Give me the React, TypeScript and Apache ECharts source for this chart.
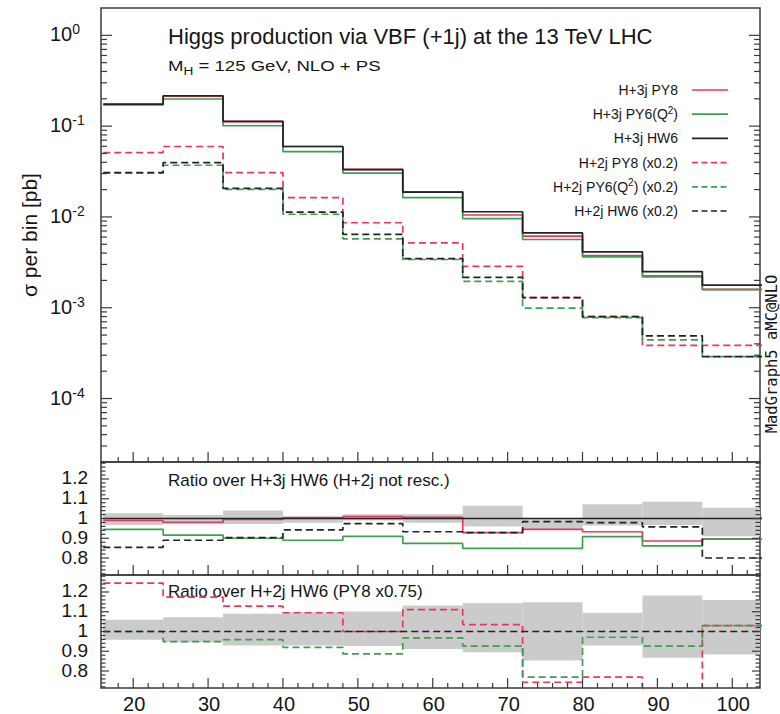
import React, { useEffect, useRef } from 'react';
import * as echarts from 'echarts';

// ---------- data ----------
const binEdges = [16, 24, 32, 40, 48, 56, 64, 72, 80, 88, 96, 104];

// main panel: sigma per bin [pb]
const h3jPY8 = [0.173, 0.214, 0.112, 0.0597, 0.0334, 0.0189, 0.0105, 0.00614, 0.00376, 0.00224, 0.00159];
const h3jPY6 = [0.171, 0.199, 0.101, 0.0525, 0.0304, 0.0163, 0.0096, 0.00564, 0.00363, 0.00218, 0.00158];
const h3jHW6 = [0.175, 0.216, 0.113, 0.0597, 0.0332, 0.0188, 0.0114, 0.00666, 0.00412, 0.0025, 0.00177];
const h2jPY8 = [0.0512, 0.0597, 0.0308, 0.0163, 0.00863, 0.00519, 0.00286, 0.00129, 0.0008, 0.000385, 0.000385];
const h2jPY6 = [0.0305, 0.0371, 0.0201, 0.0107, 0.00574, 0.0034, 0.00195, 0.00099, 0.00078, 0.000443, 0.00029];
const h2jHW6 = [0.0308, 0.0397, 0.0206, 0.0113, 0.00641, 0.00348, 0.00216, 0.00129, 0.0008, 0.00049, 0.00029];

// ratio panel 1: over H+3j HW6 (H+2j not rescaled)
const r1PY8 = [0.99, 0.98, 0.995, 1.005, 1.01, 1.006, 0.928, 0.945, 0.933, 0.886, 0.896];
const r1PY6 = [0.945, 0.916, 0.9, 0.89, 0.91, 0.874, 0.849, 0.849, 0.908, 0.861, 0.896];
const r1HW6 = [1, 1, 1, 1, 1, 1, 1, 1, 1, 1, 1];
const r1H2jHW6 = [0.854, 0.89, 0.903, 0.942, 0.974, 0.933, 0.928, 0.984, 0.979, 0.958, 0.8];
const band1Lo = [0.967, 0.976, 0.972, 0.979, 0.99, 0.979, 0.96, 0.947, 0.965, 0.967, 0.91];
const band1Hi = [1.026, 1.018, 1.04, 1.009, 1.022, 1.021, 1.065, 0.996, 1.072, 1.085, 1.055];

// ratio panel 2: over H+2j HW6 (PY8 x0.75)
const r2PY8 = [1.245, 1.174, 1.128, 1.095, 1.0, 1.111, 1.035, 0.743, 0.769, 0.65, 1.03];
const r2PY6 = [1.0, 0.949, 0.959, 0.92, 0.887, 0.968, 0.926, 0.769, 0.971, 0.926, 1.03];
const r2HW6 = [1, 1, 1, 1, 1, 1, 1, 1, 1, 1, 1];
const band2Lo = [0.958, 0.946, 0.929, 0.929, 0.927, 0.912, 0.895, 0.853, 0.929, 0.867, 0.884];
const band2Hi = [1.059, 1.072, 1.09, 1.098, 1.101, 1.132, 1.143, 1.148, 1.095, 1.182, 1.16];

// tick labels
const xTickLabels = [20, 30, 40, 50, 60, 70, 80, 90, 100];
const mainExponents = [-4, -3, -2, -1, 0];
const ratioTickValues = [0.8, 0.9, 1.0, 1.1, 1.2];
const ratioTickLabels = ['0.8', '0.9', '1', '1.1', '1.2'];

const legendLabels = [
  'H+3j PY8',
  'H+3j PY6(Q{s|2})',
  'H+3j HW6',
  'H+2j PY8 (x0.2)',
  'H+2j PY6(Q{s|2}) (x0.2)',
  'H+2j HW6 (x0.2)',
];

// ---------- styling ----------
const FONT = '"Liberation Sans", Arial, Helvetica, sans-serif';
const MONO = '"DejaVu Sans Mono", "Liberation Mono", monospace';
const RED = '#e8375d';
const GREEN = '#3e9f4e';
const BLACK = '#222222';
const FRAME = '#3a3a3a';
const BAND = '#cbcbcb';
const TEXT = '#151515';
const DASH = [7, 4];

const X_MIN = 15.7;
const X_MAX = 103.7;
const MAIN_MIN = 2e-5;
const MAIN_MAX = 2;
const R_MIN = 0.714;
const R_MAX = 1.286;

const legendColors = [RED, GREEN, BLACK, RED, GREEN, BLACK];
const legendDashed = [false, false, false, true, true, true];

function stepData(vals: number[]) {
  const pts = vals.map((v, i) => [binEdges[i], v]);
  pts.push([binEdges[vals.length], vals[vals.length - 1]]);
  return pts;
}

function bandData(lo: number[], hi: number[]) {
  return lo.map((l, i) => [binEdges[i], l, binEdges[i + 1], hi[i]]);
}

function lineSeries(name: string, vals: number[], color: string, dashed: boolean, g: number, z = 3) {
  return {
    type: 'line',
    name,
    xAxisIndex: g,
    yAxisIndex: g,
    data: stepData(vals),
    step: 'end',
    symbol: 'none',
    showSymbol: false,
    silent: true,
    clip: true,
    z,
    lineStyle: { color, width: 1.7, type: dashed ? DASH : 'solid' },
    itemStyle: { color },
  };
}

function bandSeries(lo: number[], hi: number[], g: number) {
  return {
    type: 'custom',
    xAxisIndex: g,
    yAxisIndex: g,
    clip: true,
    silent: true,
    z: 1,
    data: bandData(lo, hi),
    renderItem: (params: any, api: any) => {
      const p0 = api.coord([api.value(0), api.value(3)]);
      const p1 = api.coord([api.value(2), api.value(1)]);
      return {
        type: 'rect',
        shape: { x: p0[0], y: p0[1], width: p1[0] - p0[0], height: p1[1] - p0[1] },
        style: { fill: BAND },
      };
    },
  };
}

// tick marks: [x, y, kind(0 = x tick, 1 = y tick), length]
function tickItems(g: number) {
  const items: number[][] = [];
  const yRef = g === 0 ? 1e-2 : 1;
  for (let v = 18; v <= 102; v += 2) items.push([v, yRef, 0, v % 10 === 0 ? 10 : 5]);
  if (g === 0) {
    for (let k = -5; k <= 0; k++) {
      for (let m = 1; m <= 9; m++) {
        const v = m * Math.pow(10, k);
        if (v > MAIN_MIN && v < MAIN_MAX) items.push([50, v, 1, m === 1 ? 11 : 6]);
      }
    }
  } else {
    for (let i = 36; i <= 64; i++) {
      items.push([50, i / 50, 1, i % 5 === 0 ? 8 : 4.5]);
    }
  }
  return items;
}

function tickSeries(g: number) {
  return {
    type: 'custom',
    xAxisIndex: g,
    yAxisIndex: g,
    silent: true,
    z: 5,
    data: tickItems(g),
    renderItem: (params: any, api: any) => {
      const cs = params.coordSys;
      const p = api.coord([api.value(0), api.value(1)]);
      const kind = api.value(2);
      const len = api.value(3);
      const style = { stroke: FRAME, lineWidth: 1.2 };
      if (kind === 0) {
        const yb = cs.y + cs.height;
        return { type: 'line', shape: { x1: p[0], y1: yb, x2: p[0], y2: yb - len }, style };
      }
      const xl = cs.x;
      const xr = cs.x + cs.width;
      return {
        type: 'group',
        children: [
          { type: 'line', shape: { x1: xl, y1: p[1], x2: xl + len, y2: p[1] }, style },
          { type: 'line', shape: { x1: xr, y1: p[1], x2: xr - len, y2: p[1] }, style },
        ],
      };
    },
  };
}

function mainLabelSeries() {
  return {
    type: 'custom',
    xAxisIndex: 0,
    yAxisIndex: 0,
    silent: true,
    z: 5,
    data: mainExponents.map((k) => [50, Math.pow(10, k)]),
    renderItem: (params: any, api: any) => {
      const cs = params.coordSys;
      const p = api.coord([api.value(0), api.value(1)]);
      const k = mainExponents[params.dataIndex];
      return {
        type: 'text',
        x: cs.x - 51,
        y: p[1] - 1,
        style: {
          text: '10{s|' + k + '}',
          fontSize: 20,
          fontFamily: FONT,
          fill: TEXT,
          lineHeight: 24,
          align: 'left',
          verticalAlign: 'middle',
          rich: { s: { fontSize: 14, fontFamily: FONT, fill: TEXT, lineHeight: 14, verticalAlign: 'top' } },
        },
      };
    },
  };
}

function ratioLabelSeries(g: number) {
  return {
    type: 'custom',
    xAxisIndex: g,
    yAxisIndex: g,
    silent: true,
    z: 5,
    data: ratioTickValues.map((v) => [50, v]),
    renderItem: (params: any, api: any) => {
      const cs = params.coordSys;
      const p = api.coord([api.value(0), api.value(1)]);
      return {
        type: 'text',
        x: cs.x - 13,
        y: p[1] - 1,
        style: {
          text: ratioTickLabels[params.dataIndex],
          fontSize: 19,
          lineHeight: 16,
          fontFamily: FONT,
          fill: TEXT,
          align: 'right',
          verticalAlign: 'middle',
        },
      };
    },
  };
}

function xLabelSeries() {
  return {
    type: 'custom',
    xAxisIndex: 2,
    yAxisIndex: 2,
    silent: true,
    z: 5,
    data: xTickLabels.map((v) => [v, 1]),
    renderItem: (params: any, api: any) => {
      const cs = params.coordSys;
      const p = api.coord([api.value(0), api.value(1)]);
      return {
        type: 'text',
        x: p[0] + 1,
        y: cs.y + cs.height + 16,
        style: {
          text: String(xTickLabels[params.dataIndex]),
          fontSize: 20,
          lineHeight: 18,
          fontFamily: FONT,
          fill: TEXT,
          align: 'center',
          verticalAlign: 'middle',
        },
      };
    },
  };
}

function buildOption() {
  const gridBase = { left: 101, width: 659, show: true, borderColor: FRAME, borderWidth: 1.5, backgroundColor: 'transparent' };
  const legendGraphics: any[] = [];
  legendLabels.forEach((lab, i) => {
    const y = 90 + i * 24.2;
    legendGraphics.push({
      type: 'text',
      x: 678,
      y,
      style: {
        text: lab,
        fontSize: 14,
        fontFamily: FONT,
        fill: TEXT,
        lineHeight: 18,
        align: 'right',
        verticalAlign: 'middle',
        rich: { s: { fontSize: 10, fontFamily: FONT, fill: TEXT, lineHeight: 10, verticalAlign: 'top' } },
      },
    });
    legendGraphics.push({
      type: 'line',
      shape: { x1: 692, y1: y, x2: 728, y2: y },
      style: { stroke: legendColors[i], lineWidth: 1.7, lineDash: legendDashed[i] ? [6, 3.5] : null },
    });
  });

  return {
    animation: false,
    backgroundColor: '#ffffff',
    grid: [
      { ...gridBase, top: 8, height: 454 },
      { ...gridBase, top: 462, height: 113 },
      { ...gridBase, top: 575, height: 113 },
    ],
    xAxis: [0, 1, 2].map((g) => ({ type: 'value', gridIndex: g, min: X_MIN, max: X_MAX, show: false })),
    yAxis: [
      { type: 'log', logBase: 10, gridIndex: 0, min: MAIN_MIN, max: MAIN_MAX, show: false },
      { type: 'value', gridIndex: 1, min: R_MIN, max: R_MAX, show: false },
      { type: 'value', gridIndex: 2, min: R_MIN, max: R_MAX, show: false },
    ],
    graphic: [
      {
        type: 'text',
        x: 168,
        y: 36,
        style: { text: 'Higgs production via VBF (+1j) at the 13 TeV LHC', fontSize: 22, fontFamily: FONT, fill: TEXT, align: 'left', verticalAlign: 'middle' },
      },
      {
        type: 'text',
        x: 168,
        y: 66,
        scaleX: 1.24,
        style: {
          text: 'M{sub|H} = 125 GeV, NLO + PS',
          fontSize: 15,
          fontFamily: FONT,
          fill: TEXT,
          lineHeight: 22,
          align: 'left',
          verticalAlign: 'middle',
          rich: { sub: { fontSize: 11, fontFamily: FONT, fill: TEXT, lineHeight: 10, verticalAlign: 'bottom' } },
        },
      },
      {
        type: 'text',
        x: 29,
        y: 235,
        rotation: Math.PI / 2,
        style: { text: 'σ per bin [pb]', fontSize: 21, fontFamily: FONT, fill: TEXT, align: 'center', verticalAlign: 'middle' },
      },
      {
        type: 'text',
        x: 772,
        y: 354,
        rotation: Math.PI / 2,
        style: { text: 'MadGraph5 aMC@NLO', fontSize: 15.5, lineHeight: 14, fontFamily: MONO, fill: TEXT, align: 'center', verticalAlign: 'middle' },
      },
      {
        type: 'text',
        x: 168,
        y: 480,
        style: { text: 'Ratio over H+3j HW6 (H+2j not resc.)', fontSize: 17, fontFamily: FONT, fill: TEXT, align: 'left', verticalAlign: 'middle' },
      },
      {
        type: 'text',
        x: 168,
        y: 591,
        style: { text: 'Ratio over H+2j HW6 (PY8 x0.75)', fontSize: 17, fontFamily: FONT, fill: TEXT, align: 'left', verticalAlign: 'middle' },
      },
      ...legendGraphics,
    ],
    series: [
      // main panel
      lineSeries('H+3j PY8', h3jPY8, RED, false, 0),
      lineSeries('H+3j PY6(Q2)', h3jPY6, GREEN, false, 0),
      lineSeries('H+3j HW6', h3jHW6, BLACK, false, 0),
      lineSeries('H+2j PY8 (x0.2)', h2jPY8, RED, true, 0),
      lineSeries('H+2j PY6(Q2) (x0.2)', h2jPY6, GREEN, true, 0),
      lineSeries('H+2j HW6 (x0.2)', h2jHW6, BLACK, true, 0),
      tickSeries(0),
      mainLabelSeries(),
      // ratio panel 1
      bandSeries(band1Lo, band1Hi, 1),
      lineSeries('r1 PY8', r1PY8, RED, false, 1),
      lineSeries('r1 PY6', r1PY6, GREEN, false, 1),
      lineSeries('r1 HW6', r1HW6, BLACK, false, 1),
      lineSeries('r1 H+2j HW6', r1H2jHW6, BLACK, true, 1),
      tickSeries(1),
      ratioLabelSeries(1),
      // ratio panel 2
      bandSeries(band2Lo, band2Hi, 2),
      lineSeries('r2 PY8', r2PY8, RED, true, 2),
      lineSeries('r2 PY6', r2PY6, GREEN, true, 2),
      lineSeries('r2 HW6', r2HW6, BLACK, true, 2),
      tickSeries(2),
      ratioLabelSeries(2),
      xLabelSeries(),
    ],
  };
}

export default function App() {
  const ref = useRef<HTMLDivElement>(null);
  useEffect(() => {
    if (!ref.current) return;
    const chart = echarts.init(ref.current, null, { renderer: 'svg' });
    chart.setOption(buildOption() as any);
    return () => chart.dispose();
  }, []);
  return (
    <div
      ref={ref}
      style={{ position: 'fixed', left: 0, top: 0, width: 780, height: 714, background: '#ffffff' }}
    />
  );
}
